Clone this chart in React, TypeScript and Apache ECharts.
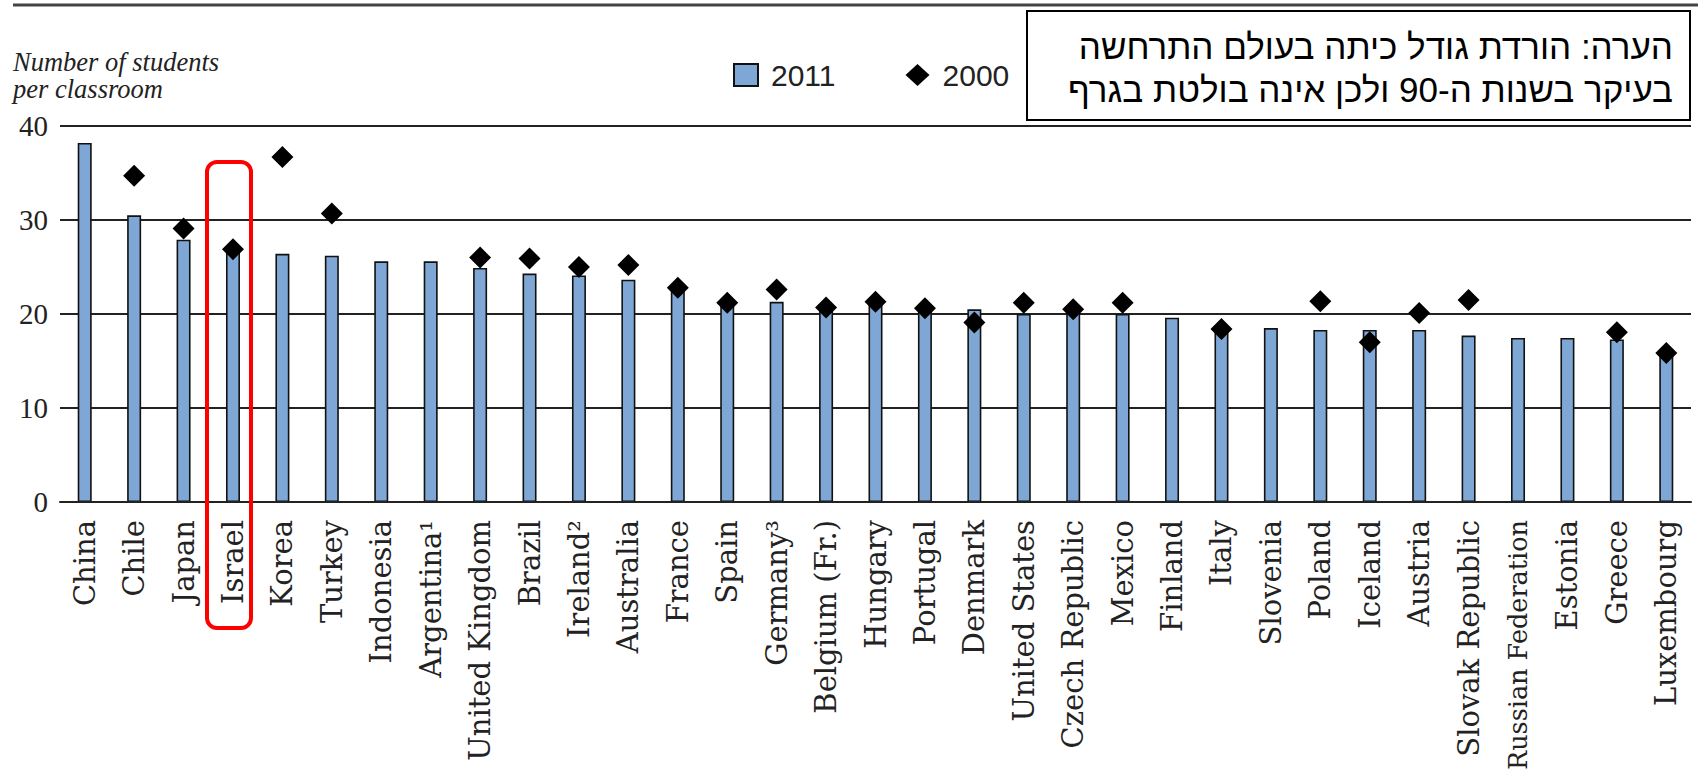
import React, { useEffect, useRef } from 'react';
import * as echarts from 'echarts';

const categories = [
  'China', 'Chile', 'Japan', 'Israel', 'Korea', 'Turkey', 'Indonesia', 'Argentina¹',
  'United Kingdom', 'Brazil', 'Ireland²', 'Australia', 'France', 'Spain', 'Germany³',
  'Belgium (Fr.)', 'Hungary', 'Portugal', 'Denmark', 'United States', 'Czech Republic',
  'Mexico', 'Finland', 'Italy', 'Slovenia', 'Poland', 'Iceland', 'Austria',
  'Slovak Republic', 'Russian Federation', 'Estonia', 'Greece', 'Luxembourg',
];

const values2011 = [
  38.2, 30.5, 27.9, 26.8, 26.4, 26.2, 25.6, 25.6,
  24.9, 24.3, 24.1, 23.65, 22.6, 21.0, 21.3,
  20.6, 21.2, 20.5, 20.5, 20.0, 20.2,
  20.0, 19.6, 18.3, 18.5, 18.3, 18.3, 18.3,
  17.7, 17.45, 17.45, 17.3, 15.7,
];

const values2000: (number | null)[] = [
  null, 34.7, 29.1, 26.9, 36.7, 30.7, null, null,
  26.0, 25.9, 25.0, 25.2, 22.8, 21.2, 22.6,
  20.7, 21.3, 20.6, 19.1, 21.2, 20.5,
  21.2, null, 18.4, null, 21.35, 17.0, 20.1,
  21.5, null, null, 18.05, 15.85,
];

const seriesNames = ['2011', '2000'];
const yAxisTitle = 'Number of students\nper classroom';
const noteText = 'הערה: הורדת גודל כיתה בעולם התרחשה\nבעיקר בשנות ה-90 ולכן אינה בולטת בגרף';

export default function App() {
  const ref = useRef<HTMLDivElement>(null);

  useEffect(() => {
    document.body.style.margin = '0';
    if (!ref.current) return;
    const chart = echarts.init(ref.current, undefined, { renderer: 'svg' });
    const serif = 'DejaVu Serif';
    chart.setOption({
      animation: false,
      backgroundColor: '#ffffff',
      grid: {
        left: 60,
        right: 7,
        top: 126,
        bottom: 274,
        containLabel: false,
        outerBoundsMode: 'none',
      },
      legend: {
        left: 728,
        top: 55,
        itemWidth: 24,
        itemHeight: 22,
        itemGap: 70,
        textStyle: {
          fontFamily: 'Liberation Sans',
          fontSize: 30,
          color: '#222',
          padding: [0, 0, 0, 8],
        },
        data: [
          { name: seriesNames[0], icon: 'rect' },
          { name: seriesNames[1], icon: 'diamond' },
        ],
      },
      xAxis: {
        type: 'category',
        data: categories,
        boundaryGap: true,
        axisLine: { show: true, lineStyle: { color: '#222', width: 2 } },
        axisTick: { show: false },
        axisLabel: {
          interval: 0,
          rotate: 90,
          margin: 18,
          fontFamily: serif,
          fontSize: 29,
          color: '#222',
          formatter: (v: string) => (v.length > 16 ? `{s|${v}}` : v),
          rich: {
            s: { fontFamily: serif, fontSize: 25.5, color: '#222' },
          },
        },
        z: 5,
      },
      yAxis: {
        type: 'value',
        min: 0,
        max: 40,
        interval: 10,
        axisLine: { show: false },
        axisTick: { show: false },
        axisLabel: {
          margin: 12,
          fontFamily: 'Liberation Serif',
          fontSize: 29,
          color: '#222',
        },
        splitLine: { show: true, lineStyle: { color: '#222', width: 1.8 } },
      },
      series: [
        {
          name: seriesNames[0],
          type: 'bar',
          data: values2011,
          barWidth: 14,
          itemStyle: { color: '#7FA7D5', borderColor: '#111', borderWidth: 1.6 },
          z: 3,
        },
        {
          name: seriesNames[1],
          type: 'scatter',
          data: values2000.map((v) => (v === null ? '-' : v)),
          symbol: 'diamond',
          symbolSize: 22,
          itemStyle: { color: '#000000', opacity: 1 },
          z: 6,
        },
      ],
      graphic: [
        {
          type: 'line',
          shape: { x1: 13, y1: 5, x2: 1698, y2: 5 },
          style: { stroke: '#444', lineWidth: 3 },
        },
        {
          type: 'text',
          x: 13,
          y: 48,
          style: {
            text: yAxisTitle,
            fontFamily: 'Liberation Serif',
            fontStyle: 'italic',
            fontSize: 26.5,
            lineHeight: 27,
            fill: '#222',
            textAlign: 'left',
            textVerticalAlign: 'top',
          },
        },
        {
          type: 'rect',
          shape: { x: 1027, y: 11, width: 663, height: 109 },
          style: { fill: '#ffffff', stroke: '#000000', lineWidth: 2 },
          z: 50,
        },
        {
          type: 'text',
          x: 1673,
          y: 68,
          z: 51,
          style: {
            text: noteText,
            fontFamily: 'Liberation Sans, DejaVu Sans, sans-serif',
            fontSize: 35,
            lineHeight: 43,
            fill: '#000000',
            textAlign: 'right',
            textVerticalAlign: 'middle',
          },
        },
        {
          type: 'rect',
          shape: { x: 207, y: 162, width: 44, height: 466, r: 10 },
          style: { fill: 'none', stroke: '#ff0000', lineWidth: 4 },
          z: 100,
        },
      ],
    });
    return () => chart.dispose();
  }, []);

  return <div ref={ref} style={{ width: 1698, height: 776 }} />;
}
